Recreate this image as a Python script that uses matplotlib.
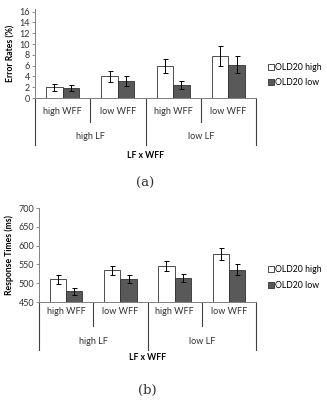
import matplotlib
matplotlib.use("Agg")
import matplotlib.pyplot as plt
import matplotlib.transforms as mtransforms
from matplotlib.patches import Patch

plt.rcParams['font.family'] = ['Lato', 'DejaVu Sans']

# data
wff_labels = ['high WFF', 'low WFF', 'high WFF', 'low WFF']
lf_labels = ['high LF', 'low LF']
series_names = ['OLD20 high', 'OLD20 low']

err_high = [2.0, 4.05, 6.0, 7.8]
err_high_se = [0.65, 1.0, 1.3, 1.85]
err_low = [1.85, 3.1, 2.4, 6.2]
err_low_se = [0.6, 0.9, 0.8, 1.5]

rt_high = [510, 534, 546, 578]
rt_high_se = [11, 11, 13, 15]
rt_low = [478, 512, 514, 536]
rt_low_se = [10, 11, 11, 14]

W = 327
H = 408
fig = plt.figure(figsize=(W / 100, H / 100), dpi=100)

light = '#ffffff'
dark = '#595959'
axcol = '#808080'


def fy(py):
    return 1 - py / H


def panel(box, hi, hi_se, lo, lo_se, ylim, yticks, ylabel, rows, tag, leg_y):
    ax = fig.add_axes(box)
    x = range(len(hi))
    bw = 0.3
    ax.bar([i - bw / 2 for i in x], [v - ylim[0] for v in hi], bw, bottom=ylim[0],
           color=light, edgecolor='#303030', linewidth=0.6,
           yerr=hi_se, capsize=1.8, error_kw=dict(elinewidth=0.7, capthick=0.7, ecolor='black'))
    ax.bar([i + bw / 2 for i in x], [v - ylim[0] for v in lo], bw, bottom=ylim[0],
           color=dark, edgecolor='#303030', linewidth=0.6,
           yerr=lo_se, capsize=1.8, error_kw=dict(elinewidth=0.7, capthick=0.7, ecolor='black'))
    ax.set_xlim(-0.5, 3.5)
    ax.set_ylim(*ylim)
    ax.set_yticks(yticks)
    ax.set_xticks([])
    ax.tick_params(axis='y', labelsize=6.5, length=2, width=0.6, color=axcol, pad=1.5,
                   labelcolor='#333333')
    for s in ['top', 'right']:
        ax.spines[s].set_visible(False)
    for s in ['left', 'bottom']:
        ax.spines[s].set_color(axcol)
        ax.spines[s].set_linewidth(0.7)
    ax.set_ylabel(ylabel, fontsize=6.2, fontweight='bold', labelpad=3)

    # hierarchical category axis below the bars
    tr = mtransforms.blended_transform_factory(ax.transData, fig.transFigure)
    y0, ywff, yinner, ylf, yend, yttl, ytag = rows
    for xb in [-0.5, 1.5, 3.5]:
        ax.plot([xb, xb], [fy(y0), fy(yend)], transform=tr, color='#404040',
                linewidth=0.8, clip_on=False)
    for xb in [0.5, 2.5]:
        ax.plot([xb, xb], [fy(y0), fy(yinner)], transform=tr, color='#404040',
                linewidth=0.8, clip_on=False)
    for i, lab in enumerate(wff_labels):
        ax.text(i, fy(ywff), lab, transform=tr, ha='center', va='center',
                fontsize=6.5, color='#303030')
    for j, lab in enumerate(lf_labels):
        ax.text(2 * j + 0.5, fy(ylf), lab, transform=tr, ha='center', va='center',
                fontsize=6.5, color='#303030')
    ax.text(1.5, fy(yttl), 'LF x WFF', transform=tr, ha='center', va='center',
            fontsize=6.2, fontweight='bold')
    ax.text(1.5, fy(ytag), tag, transform=tr, ha='center', va='center',
            fontsize=9.5, family='DejaVu Serif', color='#333333')

    handles = [Patch(facecolor=light, edgecolor='#303030', linewidth=0.6),
               Patch(facecolor=dark, edgecolor='#303030', linewidth=0.6)]
    fig.legend(handles, series_names, loc='center left',
               bbox_to_anchor=(264 / W, fy(leg_y)), frameon=False, fontsize=6.3,
               handlelength=0.7, handleheight=0.7, handletextpad=0.2,
               labelspacing=0.75, borderaxespad=0)
    return ax


panel([35 / W, fy(98), 221 / W, 89 / H], err_high, err_high_se, err_low, err_low_se,
      (0, 16.5), range(0, 17, 2), 'Error Rates (%)',
      (98, 112, 122, 137, 145, 155, 183), '(a)', 75)

panel([39 / W, fy(302), 217 / W, 94 / H], rt_high, rt_high_se, rt_low, rt_low_se,
      (450, 700), range(450, 701, 50), 'Response Times (ms)',
      (302, 312, 326, 341, 350, 358, 390), '(b)', 277.5)

fig.savefig('out.png', dpi=100)
